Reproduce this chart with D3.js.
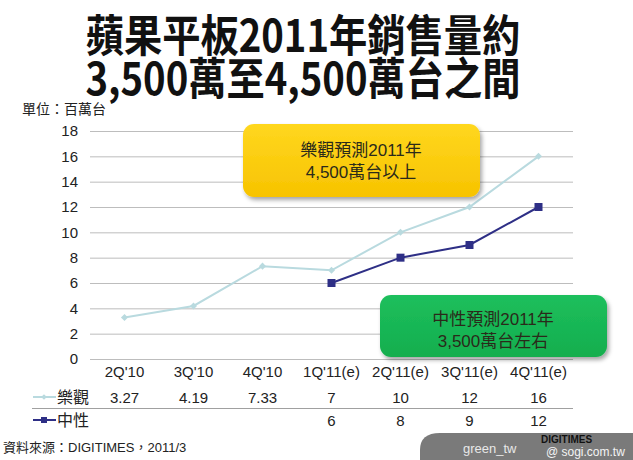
<!DOCTYPE html>
<html><head><meta charset="utf-8">
<script src="https://cdn.jsdelivr.net/npm/d3@7"></script>
<style>
body{margin:0;background:#fff;}
svg{display:block;}
</style></head>
<body>
<svg id="c" width="633" height="460"></svg>
<script>
const categories = ["2Q'10","3Q'10","4Q'10","1Q'11(e)","2Q'11(e)","3Q'11(e)","4Q'11(e)"];
const optimistic = [3.27, 4.19, 7.33, 7, 10, 12, 16];
const optimisticLabels = ["3.27","4.19","7.33","7","10","12","16"];
const neutral = [null, null, null, 6, 8, 9, 12];
const yTicks = [0,2,4,6,8,10,12,14,16,18];
const seriesNames = ["樂觀","中性"];
const titleLines = ["蘋果平板2011年銷售量約","3,500萬至4,500萬台之間"];
const unitLabel = "單位：百萬台";
const sourceLabel = "資料來源：DIGITIMES，2011/3";
const boxOpt = ["樂觀預測2011年","4,500萬台以上"];
const boxNeu = ["中性預測2011年","3,500萬台左右"];

const svg = d3.select("#c");
const font = "Arial, 'Liberation Sans', 'Noto Sans CJK TC', sans-serif";
const cjk = "'Noto Sans CJK TC', sans-serif";
const cOpt = "#B9DADF", cNeu = "#2E2F86";

const defs = svg.append("defs");
const f = defs.append("filter").attr("id","sh").attr("x","-10%").attr("y","-10%").attr("width","130%").attr("height","140%");
f.append("feDropShadow").attr("dx",2).attr("dy",3).attr("stdDeviation",2).attr("flood-color","#000").attr("flood-opacity",0.35);
const gy = defs.append("linearGradient").attr("id","gy").attr("x1",0).attr("y1",0).attr("x2",0).attr("y2",1);
gy.append("stop").attr("offset","0%").attr("stop-color","#FFD71F");
gy.append("stop").attr("offset","100%").attr("stop-color","#F7C300");
const gg = defs.append("linearGradient").attr("id","gg").attr("x1",0).attr("y1",0).attr("x2",0).attr("y2",1);
gg.append("stop").attr("offset","0%").attr("stop-color","#1DBF5C");
gg.append("stop").attr("offset","100%").attr("stop-color","#14AE4E");

// title
svg.selectAll("text.title").data(titleLines).join("text")
  .attr("transform",(d,i)=>`translate(303,${52+i*43}) scale(0.87,1)`)
  .attr("text-anchor","middle").attr("font-family",cjk).attr("font-weight","bold")
  .attr("font-size",44).attr("fill","#111").text(d=>d);

svg.append("text").attr("x",22).attr("y",114).attr("font-family",cjk).attr("font-size",14).attr("fill","#222").text(unitLabel);

const x = d3.scaleBand().domain(categories).range([90,573]);
const y = d3.scaleLinear().domain([0,18]).range([359,131]);

// gridlines
svg.append("g").selectAll("line").data(yTicks).join("line")
  .attr("x1",90).attr("x2",573).attr("y1",d=>y(d)+0.5).attr("y2",d=>y(d)+0.5)
  .attr("stroke","#BDBDBD").attr("stroke-width",1);

const yAxis = svg.append("g").attr("transform","translate(78,0)")
  .call(d3.axisLeft(y).tickValues(yTicks).tickSize(0).tickPadding(0));
yAxis.select(".domain").remove();
yAxis.selectAll("text").attr("font-family",font).attr("font-size",15).attr("fill","#222");

const xAxis = svg.append("g").attr("transform","translate(0,366)")
  .call(d3.axisBottom(x).tickSize(0).tickPadding(0));
xAxis.select(".domain").remove();
xAxis.selectAll("text").attr("font-family",font).attr("font-size",15).attr("fill","#222");

// boxes
function box(x0,y0,w,h,fill,lines,cx,cy){
  svg.append("rect").attr("x",x0).attr("y",y0).attr("width",w).attr("height",h).attr("rx",11)
    .attr("fill",fill).attr("filter","url(#sh)");
  svg.append("g").selectAll("text").data(lines).join("text")
    .attr("x",cx).attr("y",(d,i)=>cy+i*22).attr("text-anchor","middle")
    .attr("font-family",font).attr("font-size",17).attr("fill","#2a2a1a").text(d=>d);
}

// lines
const lineGen = d3.line().defined(d=>d!=null).x((d,i)=>x(categories[i])+x.bandwidth()/2).y(d=>y(d));
svg.append("path").datum(optimistic).attr("d",lineGen).attr("fill","none").attr("stroke",cOpt).attr("stroke-width",2);
svg.append("g").selectAll("rect").data(optimistic).join("rect")
  .attr("x",(d,i)=>x(categories[i])+x.bandwidth()/2-2.5).attr("y",d=>y(d)-2.5)
  .attr("width",5).attr("height",5).attr("fill",cOpt)
  .attr("transform",(d,i)=>`rotate(45,${x(categories[i])+x.bandwidth()/2},${y(d)})`);

box(243,124,237,73,"url(#gy)",boxOpt,361,156);

svg.append("path").datum(neutral).attr("d",lineGen).attr("fill","none").attr("stroke",cNeu).attr("stroke-width",2);
svg.append("g").selectAll("rect").data(neutral.map((v,i)=>({v,i})).filter(d=>d.v!=null)).join("rect")
  .attr("x",d=>x(categories[d.i])+x.bandwidth()/2-4).attr("y",d=>y(d.v)-4)
  .attr("width",8).attr("height",8).attr("fill",cNeu);

box(380,295,227,62,"url(#gg)",boxNeu,493,325);

// data table
const rowY = [403, 426];
svg.append("g").selectAll("text").data(optimisticLabels).join("text")
  .attr("x",(d,i)=>x(categories[i])+x.bandwidth()/2).attr("y",rowY[0])
  .attr("text-anchor","middle").attr("font-family",font).attr("font-size",15).attr("fill","#222").text(d=>d);
svg.append("g").selectAll("text").data(neutral.map((v,i)=>({v,i})).filter(d=>d.v!=null)).join("text")
  .attr("x",d=>x(categories[d.i])+x.bandwidth()/2).attr("y",rowY[1])
  .attr("text-anchor","middle").attr("font-family",font).attr("font-size",15).attr("fill","#222").text(d=>d.v);
svg.append("line").attr("x1",32).attr("x2",573).attr("y1",408.5).attr("y2",408.5).attr("stroke","#A0A0A0");

// legend in table
svg.append("line").attr("x1",33).attr("x2",56).attr("y1",397).attr("y2",397).attr("stroke",cOpt).attr("stroke-width",2);
svg.append("rect").attr("x",42).attr("y",395).attr("width",4).attr("height",4).attr("fill",cOpt)
  .attr("transform","rotate(45,44,397)");
svg.append("line").attr("x1",33).attr("x2",56).attr("y1",420).attr("y2",420).attr("stroke",cNeu).attr("stroke-width",2);
svg.append("rect").attr("x",41).attr("y",417).attr("width",6).attr("height",6).attr("fill",cNeu);
svg.selectAll("text.leg").data(seriesNames).join("text")
  .attr("x",57).attr("y",(d,i)=>rowY[i]).attr("font-family",cjk).attr("font-size",16).attr("fill","#222").text(d=>d);

svg.append("text").attr("x",3).attr("y",452).attr("font-family",font).attr("font-size",13).attr("fill","#222").text(sourceLabel);

// watermark tab
svg.append("path").attr("d","M420,460 L420,450 Q420,433 440,433 L633,433 L633,460 Z").attr("fill","#7a7a7a");
svg.append("text").attr("x",463).attr("y",453).attr("font-family",font).attr("font-size",13).attr("fill","#e8e8e8").text("green_tw");
svg.append("text").attr("x",541).attr("y",443).attr("font-family",font).attr("font-size",10).attr("font-weight","bold").attr("fill","#111").text("DIGITIMES");
svg.append("text").attr("x",546).attr("y",456).attr("font-family",font).attr("font-size",12).attr("fill","#f4f4f4").text("@ sogi.com.tw");
</script>
</body></html>
